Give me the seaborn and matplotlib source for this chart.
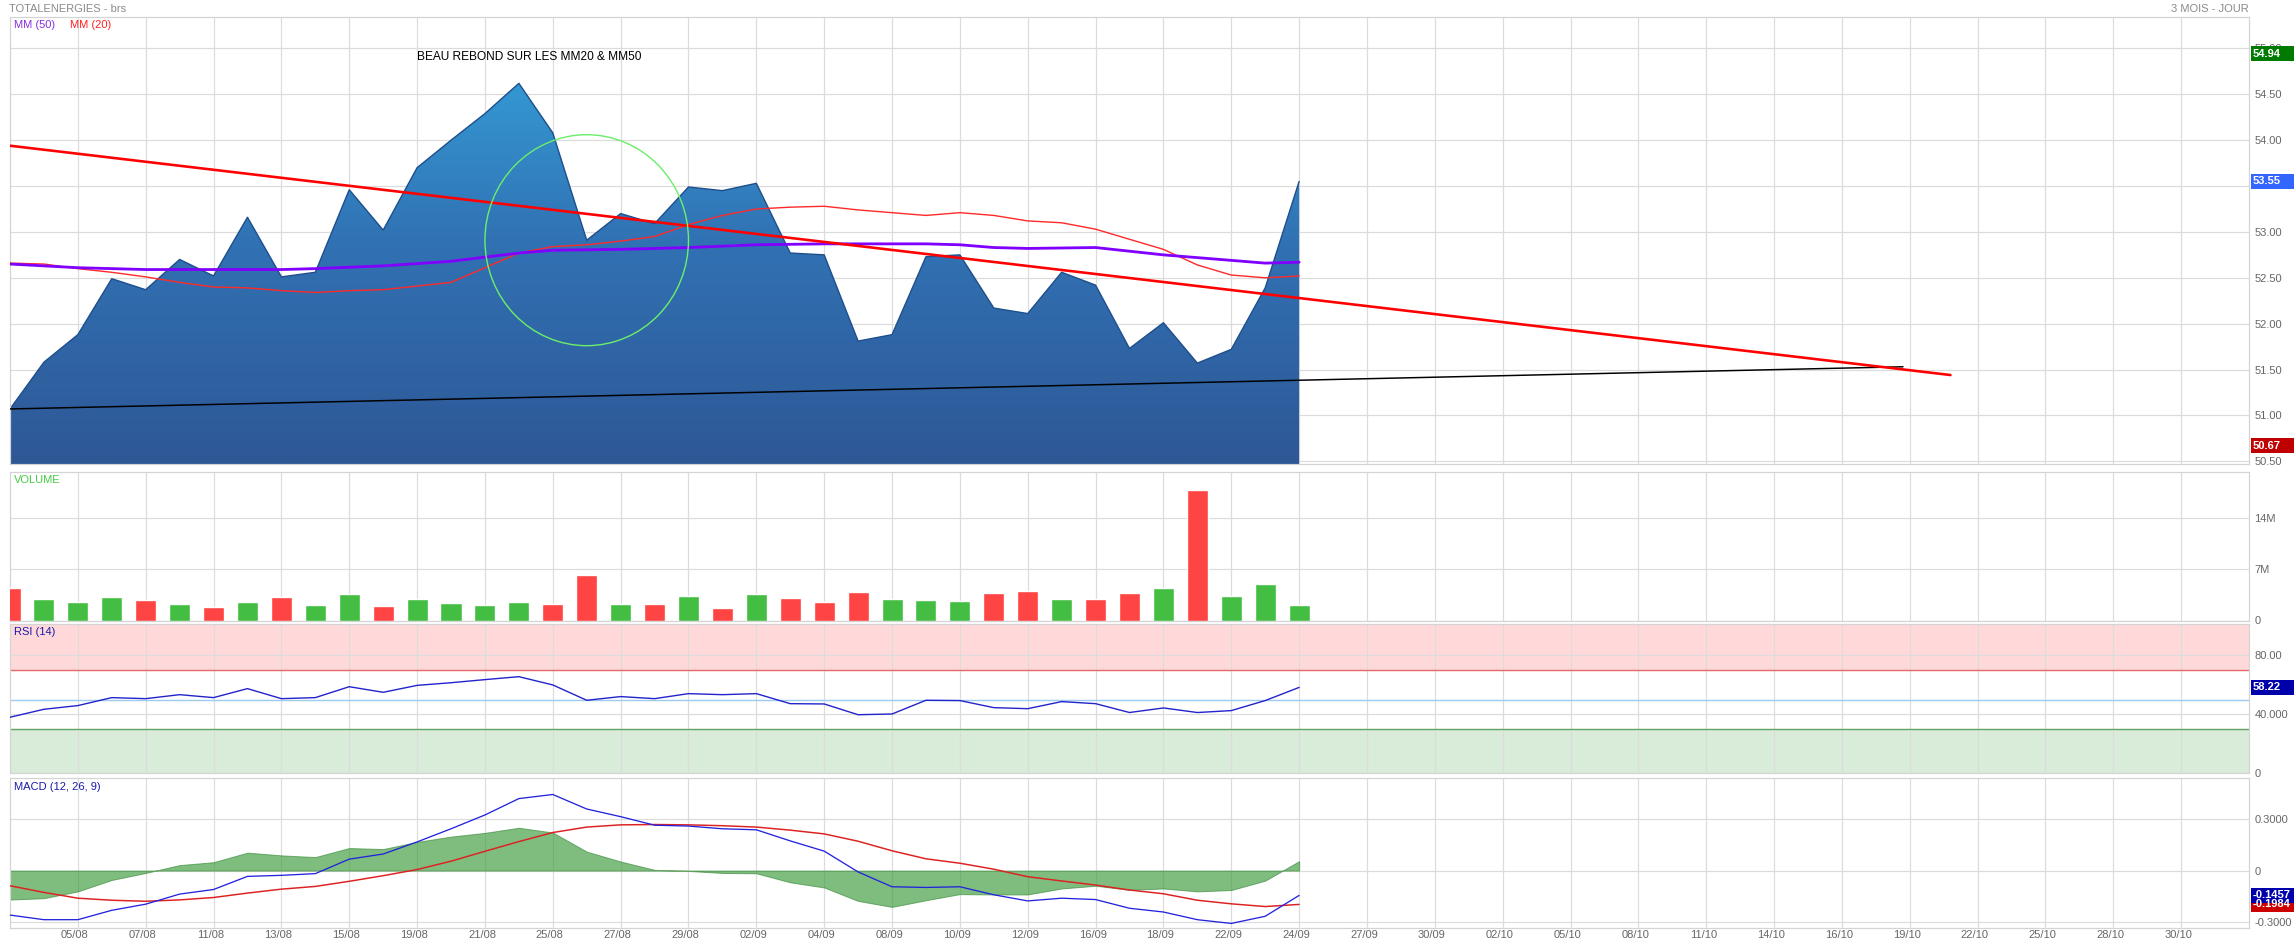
import matplotlib
matplotlib.use("Agg")
import matplotlib.pyplot as plt
import matplotlib.transforms as mtransforms
import numpy as np
import seaborn as sns
from matplotlib.colors import LinearSegmentedColormap
from matplotlib.patches import Ellipse, Rectangle

W, H, DPI = 2294, 942, 100

# ---- data (x = trading-day index, 01/08 = 0) ----
TICK_LABELS = ["05/08", "07/08", "11/08", "13/08", "15/08", "19/08", "21/08", "25/08",
               "27/08", "29/08", "02/09", "04/09", "08/09", "10/09", "12/09", "16/09",
               "18/09", "22/09", "24/09", "27/09", "30/09", "02/10", "05/10", "08/10",
               "11/10", "14/10", "16/10", "19/10", "22/10", "25/10", "28/10", "30/10"]

PRICE = [51.07, 51.58, 51.88, 52.49, 52.37, 52.70, 52.52, 53.16, 52.51, 52.56,
         53.46, 53.02, 53.70, 54.00, 54.29, 54.62, 54.08, 52.91, 53.20, 53.09,
         53.49, 53.45, 53.53, 52.77, 52.75, 51.81, 51.88, 52.73, 52.75, 52.17,
         52.11, 52.56, 52.42, 51.73, 52.01, 51.57, 51.72, 52.39, 53.55]

MM50_X = [0, 2, 4, 6, 8, 9, 11, 13, 15, 16, 18, 19, 20, 22, 24, 27, 28, 29, 30, 32, 34, 36, 37, 38]
MM50 = [52.65, 52.61, 52.59, 52.59, 52.59, 52.60, 52.63, 52.68, 52.77, 52.80, 52.81, 52.82,
        52.83, 52.86, 52.87, 52.87, 52.86, 52.83, 52.82, 52.83, 52.75, 52.69, 52.66, 52.67]

MM20 = [52.66, 52.65, 52.60, 52.56, 52.51, 52.45, 52.40, 52.39, 52.36, 52.34,
        52.36, 52.37, 52.41, 52.45, 52.61, 52.77, 52.84, 52.86, 52.90, 52.95,
        53.08, 53.18, 53.25, 53.27, 53.28, 53.24, 53.21, 53.18, 53.21, 53.18,
        53.12, 53.10, 53.03, 52.92, 52.81, 52.64, 52.53, 52.50, 52.52]

RESIST_X, RESIST_Y = [0, 57.2], [53.94, 51.44]
SUPPORT_X, SUPPORT_Y = [0, 55.8], [51.07, 51.53]

VOLUME_M = [4.41, 2.95, 2.50, 3.23, 2.77, 2.27, 1.86, 2.50, 3.23, 2.14,
            3.68, 2.00, 2.91, 2.41, 2.09, 2.59, 2.23, 6.27, 2.32, 2.25,
            3.29, 1.65, 3.61, 3.11, 2.56, 3.93, 2.97, 2.84, 2.61, 3.71,
            4.03, 2.88, 2.97, 3.80, 4.48, 17.84, 3.39, 4.99, 2.15]
VOLUME_DIR = "RGGGRGRGRGGRGGGGRRGRGRGRRRGGGRRGRRGRGGG"

RSI = [38.0, 43.4, 45.9, 51.3, 50.6, 53.3, 51.3, 57.4, 50.6, 51.3,
       58.7, 54.9, 59.6, 61.4, 63.5, 65.5, 59.9, 49.5, 52.0, 50.6,
       54.0, 53.3, 54.0, 47.2, 47.0, 39.7, 40.2, 49.5, 49.3, 44.5,
       43.8, 48.6, 47.2, 41.2, 44.3, 41.2, 42.5, 49.3, 58.22]

MACD = [-0.261, -0.288, -0.288, -0.233, -0.197, -0.138, -0.111, -0.034, -0.028, -0.018,
        0.067, 0.097, 0.168, 0.245, 0.326, 0.422, 0.446, 0.361, 0.316, 0.266,
        0.261, 0.245, 0.239, 0.174, 0.114, -0.008, -0.095, -0.099, -0.095, -0.142,
        -0.178, -0.162, -0.170, -0.221, -0.243, -0.288, -0.310, -0.268, -0.1457]
SIGNAL = [-0.089, -0.128, -0.162, -0.174, -0.180, -0.172, -0.158, -0.132, -0.109, -0.093,
          -0.063, -0.030, 0.006, 0.055, 0.113, 0.170, 0.223, 0.255, 0.268, 0.270,
          0.268, 0.263, 0.255, 0.237, 0.215, 0.172, 0.116, 0.069, 0.043, 0.008,
          -0.036, -0.061, -0.085, -0.114, -0.136, -0.174, -0.195, -0.211, -0.1984]
HIST = [-0.170, -0.162, -0.122, -0.055, -0.014, 0.032, 0.049, 0.105, 0.089, 0.079,
        0.132, 0.126, 0.168, 0.199, 0.221, 0.251, 0.223, 0.111, 0.053, 0.004,
        -0.002, -0.014, -0.016, -0.069, -0.099, -0.178, -0.213, -0.174, -0.138, -0.140,
        -0.140, -0.105, -0.089, -0.113, -0.105, -0.122, -0.114, -0.059, 0.055]

IDX = np.arange(len(PRICE))

# ---- style ----
sns.set_theme(style="white")
plt.rcParams["font.family"] = ["Liberation Sans", "DejaVu Sans"]

GRID = "#dcdcdc"
LABEL = "#666666"
PX = 0.72  # one pixel in points at 100 dpi
FS = 8.0

fig = plt.figure(figsize=(W / DPI, H / DPI), dpi=DPI)
fig.patch.set_facecolor("white")


def panel(top, bottom, left=10, right=2249):
    return fig.add_axes([left / W, 1 - bottom / H, (right - left) / W, (bottom - top) / H])


def style(ax, yticks, ylabels, ylim):
    ax.set_xlim(0, 66)
    ax.set_ylim(*ylim)
    ax.set_xticks(range(2, 65, 2))
    ax.set_yticks(yticks)
    ax.set_yticklabels(ylabels)
    ax.yaxis.tick_right()
    ax.tick_params(axis="y", length=0, pad=4, labelsize=FS, labelcolor=LABEL)
    ax.tick_params(axis="x", length=0, labelbottom=False)
    ax.grid(True, color=GRID, lw=PX * 1.2)
    ax.set_axisbelow(True)
    for s in ax.spines.values():
        s.set_color("#d4d4d4")
        s.set_linewidth(PX * 1.2)


def badge(ax, value, text, color):
    y = ax.transData.transform((0, value))[1]
    fig.add_artist(Rectangle((2251 / W, (y - 7.5) / H), 43 / W, 15 / H,
                             transform=fig.transFigure, color=color, lw=0, zorder=5))
    fig.text(2253 / W, y / H, text, color="white", fontsize=FS, fontweight="bold",
             va="center", ha="left", zorder=6)


# ---- price panel ----
ax = panel(17.3, 464)
price_ticks = np.arange(50.5, 55.01, 0.5)
price_labels = ["" if abs(v - 53.5) < 1e-6 else f"{v:.2f}" for v in price_ticks]
style(ax, price_ticks, price_labels, (50.47, 55.34))

poly = ax.fill_between(IDX, PRICE, 50.0, color="none", lw=0)
cmap = LinearSegmentedColormap.from_list("area", ["#2e5796", "#3172b4", "#35a7de"])
grad = np.linspace(0, 1, 256).reshape(-1, 1)
im = ax.imshow(grad, cmap=cmap, aspect="auto", origin="lower",
               extent=[0, 38, 50.47, 55.34], zorder=1, interpolation="bilinear")
im.set_clip_path(poly.get_paths()[0], transform=ax.transData)
sns.lineplot(x=IDX, y=PRICE, ax=ax, color="#1e4f8c", lw=PX * 1.4, zorder=2)

sns.lineplot(x=SUPPORT_X, y=SUPPORT_Y, ax=ax, color="black", lw=PX * 1.5, zorder=3)
sns.lineplot(x=IDX, y=MM20, ax=ax, color="#ff2a2a", lw=PX * 1.4, zorder=4)
sns.lineplot(x=MM50_X, y=MM50, ax=ax, color="#8000ff", lw=PX * 2.8, zorder=4)
sns.lineplot(x=RESIST_X, y=RESIST_Y, ax=ax, color="#ff0000", lw=PX * 2.6, zorder=5)
ax.add_patch(Ellipse((17.0, 52.91), 6.0, 2.30, fill=False, ec="#6bee6b", lw=PX * 1.4, zorder=6))
ax.set_xlim(0, 66)
ax.set_ylim(50.47, 55.34)
ax.set_xlabel("")
ax.set_ylabel("")

fig.text(14 / W, 1 - 25 / H, "MM (50)", color="#8a2be2", fontsize=FS, va="center")
fig.text(70 / W, 1 - 25 / H, "MM (20)", color="#ff2020", fontsize=FS, va="center")
fig.text(417 / W, 1 - 57.5 / H, "BEAU REBOND SUR LES MM20 & MM50", color="black", fontsize=8.6, va="center")
fig.text(9 / W, 1 - 8.5 / H, "TOTALENERGIES - brs", color="#8a8a8a", fontsize=FS, va="center")
fig.text(2249 / W, 1 - 8.5 / H, "3 MOIS - JOUR", color="#8a8a8a", fontsize=FS, va="center", ha="right")

# ---- volume panel ----
axv = panel(471.7, 620.5)
style(axv, [0, 7, 14], ["0", "7M", "14M"], (0, 20.35))
colors = ["#3fbd3f" if d == "G" else "#ff4040" for d in VOLUME_DIR]
axv.bar(IDX, VOLUME_M, width=0.62, color=colors, alpha=0.98, zorder=3)
fig.text(14 / W, 1 - 480 / H, "VOLUME", color="#44cc44", fontsize=FS, va="center")

# ---- RSI panel ----
axr = panel(624.3, 773.3)
style(axr, [0, 40, 80], ["0", "40.000", "80.00"], (0, 101))
axr.axhspan(70, 101, color="#ffd9d9", lw=0, zorder=0.2)
axr.axhspan(0, 30, color="#d9ebd9", lw=0, zorder=0.2)
axr.axhline(70, color="#e86868", lw=PX * 1.4, zorder=2)
axr.axhline(50, color="#9ecbf0", lw=PX * 1.4, zorder=2)
axr.axhline(30, color="#5fa35f", lw=PX * 1.4, zorder=2)
sns.lineplot(x=IDX, y=RSI, ax=axr, color="#2424cc", lw=PX * 1.4, zorder=4)
axr.set_xlim(0, 66)
axr.set_ylim(0, 101)
axr.set_xlabel("")
axr.set_ylabel("")
fig.text(14 / W, 1 - 632 / H, "RSI (14)", color="#1a1aaa", fontsize=FS, va="center")

# ---- MACD panel ----
axm = panel(778.3, 927.7)
style(axm, [-0.3, 0, 0.3], ["-0.3000", "0", "0.3000"], (-0.335, 0.541))
axm.fill_between(IDX, HIST, 0, color="#3a9a3a", alpha=0.65, lw=PX, ec="#3a8a3a", zorder=2)
sns.lineplot(x=IDX, y=SIGNAL, ax=axm, color="#dd2222", lw=PX * 1.5, zorder=3)
sns.lineplot(x=IDX, y=MACD, ax=axm, color="#2222dd", lw=PX * 1.3, zorder=4)
axm.set_xlim(0, 66)
axm.set_ylim(-0.335, 0.541)
axm.set_xlabel("")
axm.set_ylabel("")
axm.set_xticklabels(TICK_LABELS)
axm.tick_params(axis="x", labelbottom=True, labelsize=FS, labelcolor=LABEL, pad=2)
shift = mtransforms.ScaledTranslation(-3 / DPI, 0, fig.dpi_scale_trans)
for lbl in axm.get_xticklabels():
    lbl.set_transform(lbl.get_transform() + shift)
fig.text(14 / W, 1 - 787 / H, "MACD (12, 26, 9)", color="#1a1aaa", fontsize=FS, va="center")

# ---- value badges on the right ----
badge(ax, 54.94, "54.94", "#007a00")
badge(ax, 53.55, "53.55", "#3366ff")
badge(ax, 50.67, "50.67", "#c00000")
badge(axr, 58.22, "58.22", "#0000aa")
badge(axm, -0.1984, "-0.1984", "#cc0000")
badge(axm, -0.1457, "-0.1457", "#0000aa")

fig.savefig("out.png", dpi=DPI)
